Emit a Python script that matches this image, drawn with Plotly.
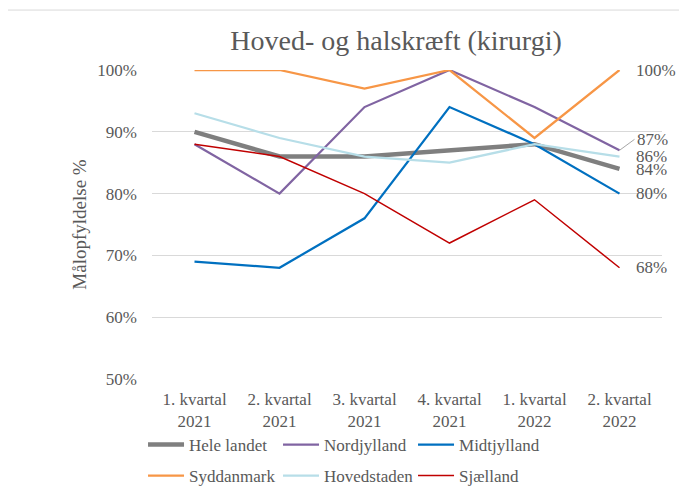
import plotly.graph_objects as go

categories = ["1. kvartal<br>2021", "2. kvartal<br>2021", "3. kvartal<br>2021",
              "4. kvartal<br>2021", "1. kvartal<br>2022", "2. kvartal<br>2022"]

hele_landet = [90, 86, 86, 87, 88, 84]
nordjylland = [88, 80, 94, 100, 94, 87]
midtjylland = [69, 68, 76, 94, 88, 80]
syddanmark = [100, 100, 97, 100, 89, 100]
hovedstaden = [93, 89, 86, 85, 88, 86]
sjaelland = [88, 86, 80, 72, 79, 68]

series_names = ["Hele landet", "Nordjylland", "Midtjylland", "Syddanmark", "Hovedstaden", "Sjælland"]
series_values = [hele_landet, nordjylland, midtjylland, syddanmark, hovedstaden, sjaelland]
colors = ["#7f7f7f", "#8064a2", "#0070c0", "#f79646", "#b7dee8", "#c00000"]
widths = [4.5, 2.25, 2.25, 2.25, 2.25, 1.5]
legend_ids = ["legend", "legend", "legend", "legend2", "legend2", "legend2"]

FONT = "Liberation Serif, Times New Roman, serif"
TXT = "#595959"
FS = 17

# the page body adds an 8px margin, so the figure is sized/positioned to compensate
W, H = 679, 485

fig = go.Figure()
for name, vals, col, w, lg in zip(series_names, series_values, colors, widths, legend_ids):
    fig.add_trace(go.Scatter(x=categories, y=vals, mode="lines", name=name,
                             line=dict(color=col, width=w), legend=lg))

# end labels
label_offsets = {"Nordjylland": -11}
label_yshift = {"Hele landet": -1}
for name, vals in zip(series_names, series_values):
    off = label_offsets.get(name, 0)
    if off:
        fig.add_annotation(x=categories[-1], y=vals[-1], text=f"{vals[-1]}%",
                           showarrow=True, arrowhead=0, arrowwidth=1, arrowcolor="#a6a6a6",
                           ax=15, ay=off, xanchor="left", yanchor="middle",
                           font=dict(family=FONT, size=FS, color=TXT))
    else:
        fig.add_annotation(x=categories[-1], y=vals[-1], text=f"{vals[-1]}%",
                           showarrow=False, xanchor="left", xshift=14,
                           yshift=label_yshift.get(name, 0), yanchor="middle",
                           font=dict(family=FONT, size=FS, color=TXT))

# outer chart border
fig.add_shape(type="rect", xref="paper", yref="paper", x0=-0.288, x1=1.06, y0=-0.38, y1=1.194,
              line=dict(color="#d9d9d9", width=1), fillcolor="rgba(0,0,0,0)", layer="below")

fig.update_layout(
    width=W, height=H,
    margin=dict(l=144, r=25, t=62, b=114, autoexpand=False),
    paper_bgcolor="white", plot_bgcolor="white",
    font=dict(family=FONT, size=FS, color=TXT),
    title=dict(text="Hoved- og halskræft (kirurgi)", x=388 / W, xref="container", xanchor="center",
               y=1 - 32 / H, yref="container", yanchor="middle",
               font=dict(family=FONT, size=28, color=TXT)),
    showlegend=True,
    legend=dict(orientation="h", x=-0.0176, xanchor="left", y=-0.2136, yanchor="middle",
                entrywidth=84, entrywidthmode="pixels", font=dict(family=FONT, size=FS, color=TXT),
                bgcolor="rgba(0,0,0,0)", itemwidth=36),
    legend2=dict(orientation="h", x=-0.0176, xanchor="left", y=-0.314, yanchor="middle",
                 entrywidth=84, entrywidthmode="pixels", font=dict(family=FONT, size=FS, color=TXT),
                 bgcolor="rgba(0,0,0,0)", itemwidth=36),
    xaxis=dict(showgrid=False, showline=False, zeroline=False, ticks="",
               ticklabelstandoff=8,
               tickfont=dict(family=FONT, size=FS, color=TXT), range=[-0.5, 5.5]),
    yaxis=dict(range=[50, 100], dtick=10, ticksuffix="%", showgrid=True, gridcolor="#d9d9d9",
               gridwidth=1, zeroline=False, showline=False, ticks="",
               ticklabelstandoff=14,
               tickfont=dict(family=FONT, size=FS, color=TXT),
               title=dict(text="Målopfyldelse %", font=dict(family=FONT, size=19, color=TXT),
                          standoff=5)),
)

fig.write_html("out.html")
